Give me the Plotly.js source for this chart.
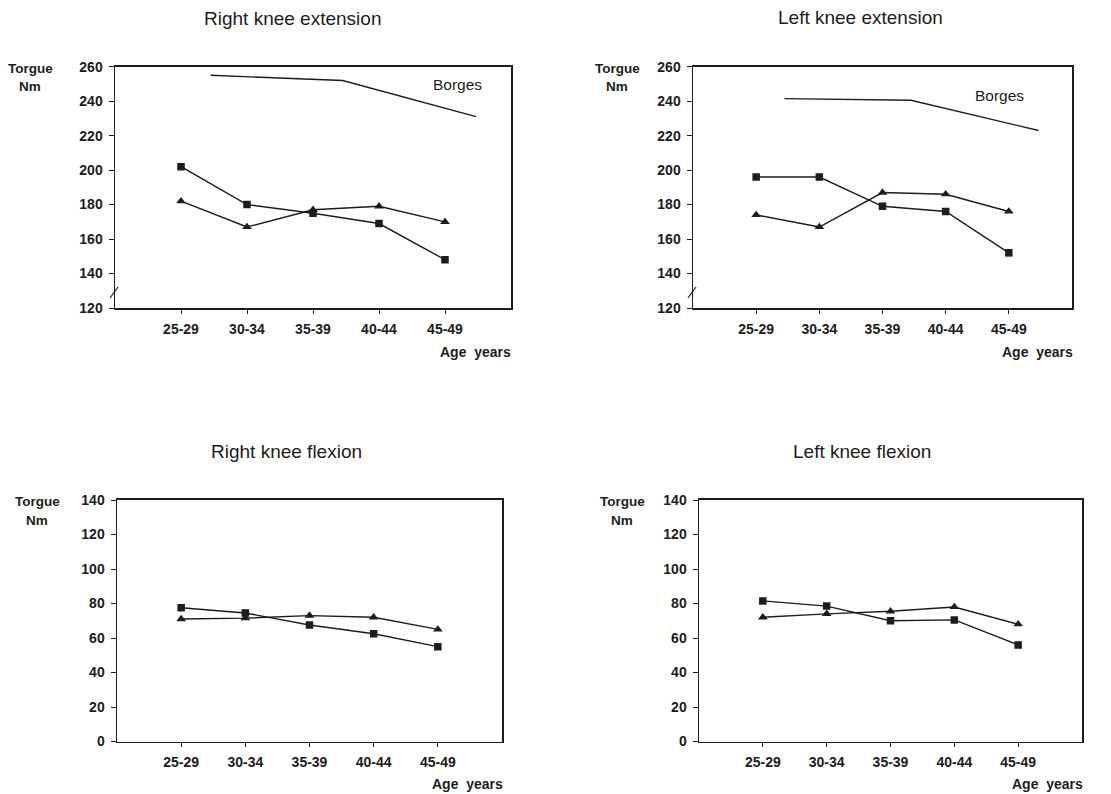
<!DOCTYPE html>
<html>
<head>
<meta charset="utf-8">
<script src="https://cdn.plot.ly/plotly-3.0.1.min.js"></script>
<style>
html,body{margin:0;padding:0;background:#fff;}
#chart{width:1111px;height:794px;}
</style>
</head>
<body>
<div id="chart"></div>
<script>
// ---- data ----
const ageGroups = ['25-29', '30-34', '35-39', '40-44', '45-49'];
const ageIndex = [0, 1, 2, 3, 4];

const rightExtSquares = [202, 180, 175, 169, 148];
const rightExtTriangles = [182, 167, 177, 179, 170];
const leftExtSquares = [196, 196, 179, 176, 152];
const leftExtTriangles = [174, 167, 187, 186, 176];
const rightFlexSquares = [77.5, 74.5, 67.5, 62.5, 55];
const rightFlexTriangles = [71, 71.5, 73, 72, 65];
const leftFlexSquares = [81.5, 78.5, 70, 70.5, 56];
const leftFlexTriangles = [72, 74, 75.5, 78, 68];

const borgesX = [0.45, 2.45, 4.47];
const rightExtBorges = [255, 252, 231];
const leftExtBorges = [241.5, 240.5, 223];

const extTicks = [120, 140, 160, 180, 200, 220, 240, 260];
const flexTicks = [0, 20, 40, 60, 80, 100, 120, 140];

const panelTitles = ['Right knee extension', 'Left knee extension', 'Right knee flexion', 'Left knee flexion'];

// ---- build ----
const FONT = 'Liberation Sans, Arial, Helvetica, sans-serif';
const INK = '#1c1c1c';

function series(xs, ys, axis, symbol, size) {
  const t = {
    x: xs, y: ys, xaxis: 'x' + axis, yaxis: 'y' + axis,
    type: 'scatter', mode: symbol ? 'lines+markers' : 'lines',
    line: {color: INK, width: 1.4},
    showlegend: false, hoverinfo: 'skip'
  };
  if (symbol) t.marker = {symbol: symbol, size: size, color: INK};
  return t;
}

const data = [
  series(ageIndex, rightExtSquares, '', 'square', 7.5),
  series(ageIndex, rightExtTriangles, '', 'triangle-up', 8.5),
  series(borgesX, rightExtBorges, '', null),
  series(ageIndex, leftExtSquares, '2', 'square', 7.5),
  series(ageIndex, leftExtTriangles, '2', 'triangle-up', 8.5),
  series(borgesX, leftExtBorges, '2', null),
  series(ageIndex, rightFlexSquares, '3', 'square', 7.5),
  series(ageIndex, rightFlexTriangles, '3', 'triangle-up', 8.5),
  series(ageIndex, leftFlexSquares, '4', 'square', 7.5),
  series(ageIndex, leftFlexTriangles, '4', 'triangle-up', 8.5)
];

const W = 1111, H = 794;
function px(x) { return x / W; }
function py(y) { return 1 - y / H; }

const tickFont = {family: FONT, size: 14, color: INK, weight: 'bold'};

function xax(l, r, anchor) {
  return {
    domain: [px(l), px(r)], anchor: anchor, range: [-1, 5],
    tickvals: ageIndex, ticktext: ageGroups,
    showline: true, mirror: true, linecolor: INK, linewidth: 1.7,
    ticks: 'outside', ticklen: 4, tickcolor: INK, tickwidth: 1,
    showgrid: false, zeroline: false, fixedrange: true,
    ticklabelstandoff: 3,
    tickfont: tickFont
  };
}
function yax(t, b, range, ticks, anchor) {
  return {
    domain: [py(b), py(t)], anchor: anchor, range: range,
    tickvals: ticks,
    showline: true, mirror: true, linecolor: INK, linewidth: 1.5,
    ticks: 'outside', ticklen: 5, tickcolor: INK, tickwidth: 1,
    showgrid: false, zeroline: false, fixedrange: true,
    ticklabelstandoff: 3,
    tickfont: tickFont
  };
}

const annotations = [];
function txt(text, x, y, xref, yref, size, xanchor, weight) {
  annotations.push({text: text, x: x, y: y, xref: xref, yref: yref, showarrow: false,
    xanchor: xanchor || 'center', yanchor: 'middle',
    font: {family: FONT, size: size, color: INK, weight: weight || 'normal'}});
}
// panel titles
txt(panelTitles[0], px(292), py(18), 'paper', 'paper', 19);
txt(panelTitles[1], px(860), py(17), 'paper', 'paper', 19);
txt(panelTitles[2], px(286), py(452), 'paper', 'paper', 19);
txt(panelTitles[3], px(862), py(451), 'paper', 'paper', 19);
// y labels
const yl = [[30, 68], [617, 68], [37, 501], [622, 501]];
yl.forEach(p => {
  txt('Torgue', px(p[0]), py(p[1]), 'paper', 'paper', 13.5, 'center', 'bold');
  txt('Nm', px(p[0]), py(p[1] + 19), 'paper', 'paper', 13.5, 'center', 'bold');
});
// x labels
const ageLbl = 'Age\u00A0\u00A0years';
txt(ageLbl, px(513), py(352), 'paper', 'paper', 14, 'right', 'bold');
txt(ageLbl, px(1075), py(352), 'paper', 'paper', 14, 'right', 'bold');
txt(ageLbl, px(505), py(784), 'paper', 'paper', 14, 'right', 'bold');
txt(ageLbl, px(1085), py(784), 'paper', 'paper', 14, 'right', 'bold');
// Borges labels
txt('Borges', 4.19, 249.8, 'x', 'y', 15.5);
txt('Borges', 3.85, 243.5, 'x2', 'y2', 15.5);

// axis break marks on the extension panels (small slash across the y axis)
const shapes = [];
[115, 693].forEach(ax => {
  shapes.push({type: 'line', xref: 'paper', yref: 'paper',
    x0: px(ax - 5), x1: px(ax + 3), y0: py(298), y1: py(287),
    line: {color: INK, width: 1.2}});
});

const layout = {
  width: W, height: H,
  margin: {l: 0, r: 0, t: 0, b: 0},
  paper_bgcolor: '#ffffff', plot_bgcolor: '#ffffff',
  font: {family: FONT, color: INK},
  xaxis: xax(115, 511, 'y'),
  yaxis: yax(66.7, 308, [120, 260], extTicks, 'x'),
  xaxis2: xax(693, 1072, 'y2'),
  yaxis2: yax(66.7, 308, [120, 260], extTicks, 'x2'),
  xaxis3: xax(117, 502, 'y3'),
  yaxis3: yax(500, 741.5, [0, 140], flexTicks, 'x3'),
  xaxis4: xax(699, 1082, 'y4'),
  yaxis4: yax(500, 741.5, [0, 140], flexTicks, 'x4'),
  annotations: annotations,
  shapes: shapes,
  showlegend: false
};

Plotly.newPlot('chart', data, layout, {staticPlot: true, displayModeBar: false});
</script>
</body>
</html>
